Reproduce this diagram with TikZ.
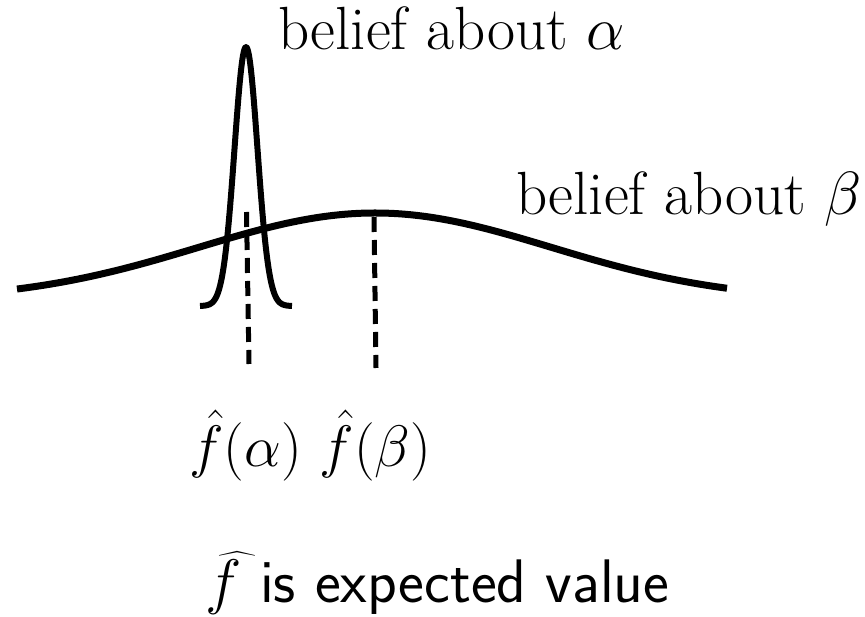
\documentclass[tikz,border=0pt]{standalone}
\usepackage{fix-cm}
\usepackage{exscale}
\tikzset{
  curve/.style={line width=6pt, line join=round},
  widecurve/.style={line width=7pt, line join=round},
  meanline/.style={line width=5pt, dash pattern=on 15pt off 8pt},
  lbl/.style={inner sep=0pt, anchor=base west},
}
\begin{document}
\begin{tikzpicture}[x=1pt,y=-1pt]
\useasboundingbox (0,0) rectangle (865,617);
% wide belief (beta)
\draw[widecurve] plot[domain=17:727, samples=120, smooth] (\x, {300-87*exp(-(((\x-375)/248.8)^2))});
% narrow belief (alpha)
\draw[curve] plot[domain=200:292, samples=120, smooth] (\x, {306-259*exp(-(((\x-246)/16.26)^2))});
% mean lines
\coordinate (atop) at (246.5,212);
\coordinate (abot) at (249,364);
\coordinate (btop) at (374,217);
\coordinate (bbot) at (376,368);
\draw[meanline] (atop) -- (abot);
\draw[meanline] (btop) -- (bbot);
% labels
\node[lbl] (la) at (278,50) {\fontsize{61}{64}\selectfont belief about $\alpha$};
\node[lbl] (lb) at (516,215) {\fontsize{61}{64}\selectfont belief about $\beta$};
\node[lbl] (fa) at (189,466) {\fontsize{58.5}{62}\selectfont $\hat{f}(\alpha)$ $\hat{f}(\beta)$};
\node[lbl] (fe) at (205,602) {\fontsize{61.5}{64}\selectfont \rlap{$\mkern3mu\widehat{\phantom{f}\kern0.12em}$}$f$ \textsf{is expected value}};
\end{tikzpicture}
\end{document}
